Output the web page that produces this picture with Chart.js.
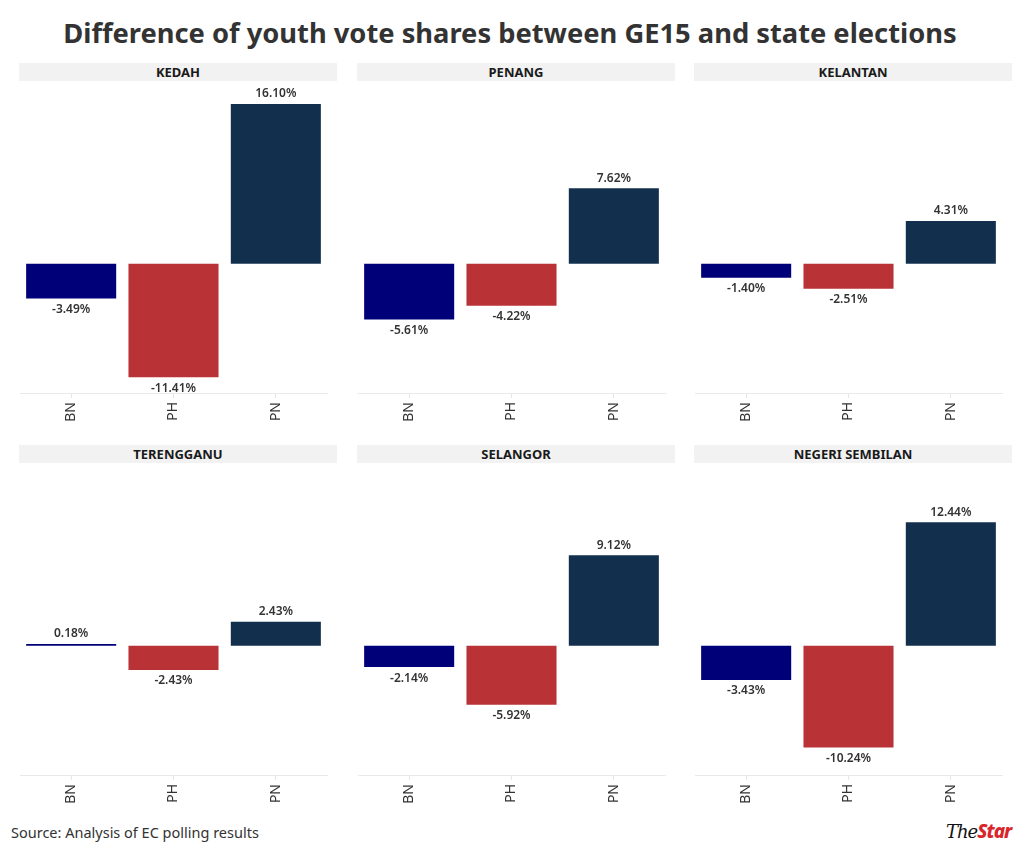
<!DOCTYPE html>
<html>
<head>
<meta charset="utf-8">
<script src="https://cdn.jsdelivr.net/npm/chart.js@4"></script>
<style>
  html, body { margin:0; padding:0; background:#fff; }
  body { width:1020px; height:856px; position:relative; overflow:hidden; font-family:"Noto Sans", "Open Sans", sans-serif; }
  #title { position:absolute; left:0; top:14px; width:1020px; text-align:center; font-weight:700; font-size:27.3px; color:#333; line-height:38px; }
  .hdr { position:absolute; width:318px; height:18px; background:#f2f2f2; text-align:center; font-weight:700; font-size:13px; line-height:18px; color:#1a1a1a; }
  .cv { position:absolute; }
  #src { position:absolute; left:11px; top:822px; font-size:14.5px; color:#333; }
  #logo { position:absolute; left:946px; top:818px; font-size:19px; font-style:italic; font-weight:800; letter-spacing:-1px; }
  #logo .the { color:#111; font-family:"DejaVu Serif", serif; font-weight:400; font-size:18px; }
  #logo .star { color:#d7262c; font-family:"Noto Sans", sans-serif; }
</style>
</head>
<body>
<div id="title">Difference of youth vote shares between GE15 and state elections</div>
<div id="src">Source: Analysis of EC polling results</div>
<div id="logo"><span class="the">The</span><span class="star">Star</span></div>
<script>
const categories = ["BN", "PH", "PN"];
const states = ["KEDAH", "PENANG", "KELANTAN", "TERENGGANU", "SELANGOR", "NEGERI SEMBILAN"];
const kedah = [-3.49, -11.41, 16.10];
const penang = [-5.61, -4.22, 7.62];
const kelantan = [-1.40, -2.51, 4.31];
const terengganu = [0.18, -2.43, 2.43];
const selangor = [-2.14, -5.92, 9.12];
const negeriSembilan = [-3.43, -10.24, 12.44];
const seriesByState = [kedah, penang, kelantan, terengganu, selangor, negeriSembilan];
const barColors = ["#000078", "#b83236", "#12304d"];
const yMin = -13, yMax = 18;

const colLeft = [19, 357, 694];
const rowHeaderTop = [63, 445];
const rowPlotTop = [85, 467];
const plotH = 308;
const axisH = 34;

const labelPlugin = {
  id: 'valLabels',
  afterDatasetsDraw(chart) {
    const ctx = chart.ctx;
    const meta = chart.getDatasetMeta(0);
    const data = chart.data.datasets[0].data;
    ctx.save();
    ctx.font = '600 12px "Noto Sans", sans-serif';
    ctx.fillStyle = '#333';
    ctx.textAlign = 'center';
    meta.data.forEach((el, i) => {
      const v = data[i];
      const txt = v.toFixed(2) + '%';
      if (v >= 0) { ctx.textBaseline = 'bottom'; ctx.fillText(txt, el.x, el.y - 4); }
      else { ctx.textBaseline = 'top'; ctx.fillText(txt, el.x, el.y + 5); }
    });
    ctx.restore();
  }
};

seriesByState.forEach((vals, idx) => {
  const col = idx % 3, row = Math.floor(idx / 3);
  const h = document.createElement('div');
  h.className = 'hdr';
  h.style.left = colLeft[col] + 'px';
  h.style.top = rowHeaderTop[row] + 'px';
  h.textContent = states[idx];
  document.body.appendChild(h);

  const wrap = document.createElement('div');
  wrap.className = 'cv';
  wrap.style.left = colLeft[col] + 'px';
  wrap.style.top = rowPlotTop[row] + 'px';
  wrap.style.width = '318px';
  wrap.style.height = (plotH + axisH) + 'px';
  const c = document.createElement('canvas');
  wrap.appendChild(c);
  document.body.appendChild(wrap);

  new Chart(c, {
    type: 'bar',
    data: {
      labels: categories,
      datasets: [{ data: vals, backgroundColor: barColors, borderWidth: 0, barPercentage: 0.88, categoryPercentage: 1.0, minBarLength: 1.5 }]
    },
    options: {
      responsive: true,
      maintainAspectRatio: false,
      animation: false,
      layout: { padding: { left: 1, right: 10, top: 0, bottom: 0 } },
      plugins: { legend: { display: false }, tooltip: { enabled: false } },
      scales: {
        y: { display: false, min: yMin, max: yMax },
        x: {
          grid: { display: true, drawOnChartArea: false, drawTicks: true, tickLength: 5, color: '#e6e6e6', offset: false },
          border: { display: true, color: '#e9e9e9', width: 1 },
          ticks: { maxRotation: 90, minRotation: 90, color: '#333', font: { family: '"Noto Sans", sans-serif', size: 14 }, padding: 4 },
          afterFit(scale) { scale.height = axisH; }
        }
      }
    },
    plugins: [labelPlugin]
  });
});
</script>
</body>
</html>
